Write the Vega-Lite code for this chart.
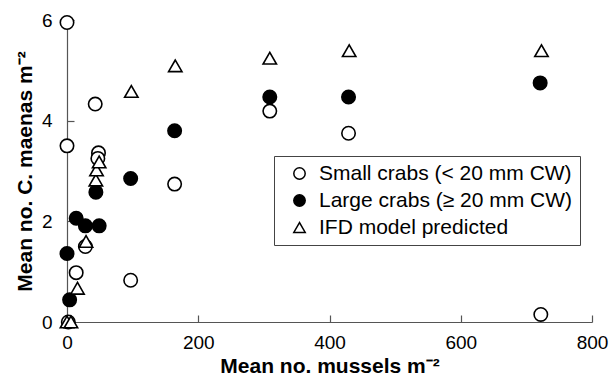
{
  "$schema": "https://vega.github.io/schema/vega-lite/v6.json",
  "width": 525,
  "height": 302,
  "autosize": {"type": "none"},
  "padding": {"left": 67, "top": 20, "right": 18, "bottom": 56},
  "background": "white",
  "config": {
    "view": {"stroke": null},
    "font": "Liberation Sans",
    "axis": {
      "grid": false,
      "domainColor": "#555555",
      "tickColor": "#555555",
      "domainWidth": 1.2,
      "tickWidth": 1.2,
      "tickSize": -7,
      "labelColor": "black",
      "labelFont": "Liberation Sans",
      "labelFontSize": 19,
      "labelFlush": false,
      "labelOverlap": false,
      "titleFont": "Liberation Sans",
      "titleFontSize": 21,
      "titleFontWeight": "bold",
      "titleColor": "black"
    },
    "legend": {
      "labelFont": "Liberation Sans",
      "labelFontSize": 21,
      "labelColor": "black",
      "labelLimit": 400,
      "labelOffset": 9,
      "symbolSize": 130,
      "symbolOffset": 8,
      "symbolStrokeWidth": 1.5,
      "rowPadding": 5,
      "padding": 7,
      "strokeColor": "#444444",
      "fillColor": "white"
    }
  },
  "data": {
    "values": [
      {"series": "Small crabs (< 20 mm CW)", "mussels": 0, "crabs": 5.95},
      {"series": "Small crabs (< 20 mm CW)", "mussels": 0, "crabs": 3.5},
      {"series": "Small crabs (< 20 mm CW)", "mussels": 43, "crabs": 4.33},
      {"series": "Small crabs (< 20 mm CW)", "mussels": 48, "crabs": 3.36},
      {"series": "Small crabs (< 20 mm CW)", "mussels": 47, "crabs": 3.25},
      {"series": "Small crabs (< 20 mm CW)", "mussels": 97, "crabs": 0.83},
      {"series": "Small crabs (< 20 mm CW)", "mussels": 14, "crabs": 0.98},
      {"series": "Small crabs (< 20 mm CW)", "mussels": 28, "crabs": 1.5},
      {"series": "Small crabs (< 20 mm CW)", "mussels": 164, "crabs": 2.74},
      {"series": "Small crabs (< 20 mm CW)", "mussels": 309, "crabs": 4.19},
      {"series": "Small crabs (< 20 mm CW)", "mussels": 429, "crabs": 3.75},
      {"series": "Small crabs (< 20 mm CW)", "mussels": 722, "crabs": 0.15},
      {"series": "Small crabs (< 20 mm CW)", "mussels": 2, "crabs": 0.0},
      {"series": "Large crabs (≥ 20 mm CW)", "mussels": 0, "crabs": 1.36},
      {"series": "Large crabs (≥ 20 mm CW)", "mussels": 4, "crabs": 0.44},
      {"series": "Large crabs (≥ 20 mm CW)", "mussels": 14, "crabs": 2.06},
      {"series": "Large crabs (≥ 20 mm CW)", "mussels": 28, "crabs": 1.91},
      {"series": "Large crabs (≥ 20 mm CW)", "mussels": 49, "crabs": 1.91},
      {"series": "Large crabs (≥ 20 mm CW)", "mussels": 44, "crabs": 2.58},
      {"series": "Large crabs (≥ 20 mm CW)", "mussels": 97, "crabs": 2.85},
      {"series": "Large crabs (≥ 20 mm CW)", "mussels": 164, "crabs": 3.8},
      {"series": "Large crabs (≥ 20 mm CW)", "mussels": 309, "crabs": 4.47},
      {"series": "Large crabs (≥ 20 mm CW)", "mussels": 429, "crabs": 4.47},
      {"series": "Large crabs (≥ 20 mm CW)", "mussels": 721, "crabs": 4.75},
      {"series": "IFD model predicted", "mussels": 0, "crabs": 0},
      {"series": "IFD model predicted", "mussels": 6, "crabs": 0},
      {"series": "IFD model predicted", "mussels": 16, "crabs": 0.67},
      {"series": "IFD model predicted", "mussels": 29, "crabs": 1.6},
      {"series": "IFD model predicted", "mussels": 44, "crabs": 2.82},
      {"series": "IFD model predicted", "mussels": 45, "crabs": 3.02},
      {"series": "IFD model predicted", "mussels": 49, "crabs": 3.18},
      {"series": "IFD model predicted", "mussels": 98, "crabs": 4.58},
      {"series": "IFD model predicted", "mussels": 165, "crabs": 5.09},
      {"series": "IFD model predicted", "mussels": 309, "crabs": 5.24},
      {"series": "IFD model predicted", "mussels": 430, "crabs": 5.39},
      {"series": "IFD model predicted", "mussels": 723, "crabs": 5.39}
    ]
  },
  "mark": {"type": "point", "filled": false, "strokeWidth": 1.6, "opacity": 1, "clip": false},
  "encoding": {
    "x": {
      "field": "mussels", "type": "quantitative",
      "scale": {"domain": [0, 800], "nice": false, "zero": true},
      "axis": {"values": [0, 200, 400, 600, 800], "labelPadding": 18, "title": "Mean no. mussels m⁻²", "titlePadding": 3}
    },
    "y": {
      "field": "crabs", "type": "quantitative",
      "scale": {"domain": [0, 6], "nice": false},
      "axis": {"values": [0, 2, 4, 6], "labelPadding": 22, "title": "Mean no. C. maenas m⁻²", "titlePadding": 6}
    },
    "shape": {
      "field": "series", "type": "nominal",
      "scale": {
        "domain": ["Small crabs (< 20 mm CW)", "Large crabs (≥ 20 mm CW)", "IFD model predicted"],
        "range": ["circle", "circle", "triangle-up"]
      },
      "legend": {
        "title": null,
        "orient": "none",
        "legendX": 207,
        "legendY": 136,
        "encode": {"legend": {"update": {"strokeWidth": {"value": 1.5}}}}
      }
    },
    "fill": {
      "field": "series", "type": "nominal",
      "scale": {
        "domain": ["Small crabs (< 20 mm CW)", "Large crabs (≥ 20 mm CW)", "IFD model predicted"],
        "range": ["white", "black", "white"]
      },
      "legend": {
        "title": null,
        "orient": "none",
        "legendX": 207,
        "legendY": 136,
        "encode": {"legend": {"update": {"strokeWidth": {"value": 1.5}}}}
      }
    },
    "stroke": {
      "field": "series", "type": "nominal",
      "scale": {
        "domain": ["Small crabs (< 20 mm CW)", "Large crabs (≥ 20 mm CW)", "IFD model predicted"],
        "range": ["black", "black", "black"]
      },
      "legend": {
        "title": null,
        "orient": "none",
        "legendX": 207,
        "legendY": 136,
        "encode": {"legend": {"update": {"strokeWidth": {"value": 1.5}}}}
      }
    },
    "size": {"value": 180}
  }
}
